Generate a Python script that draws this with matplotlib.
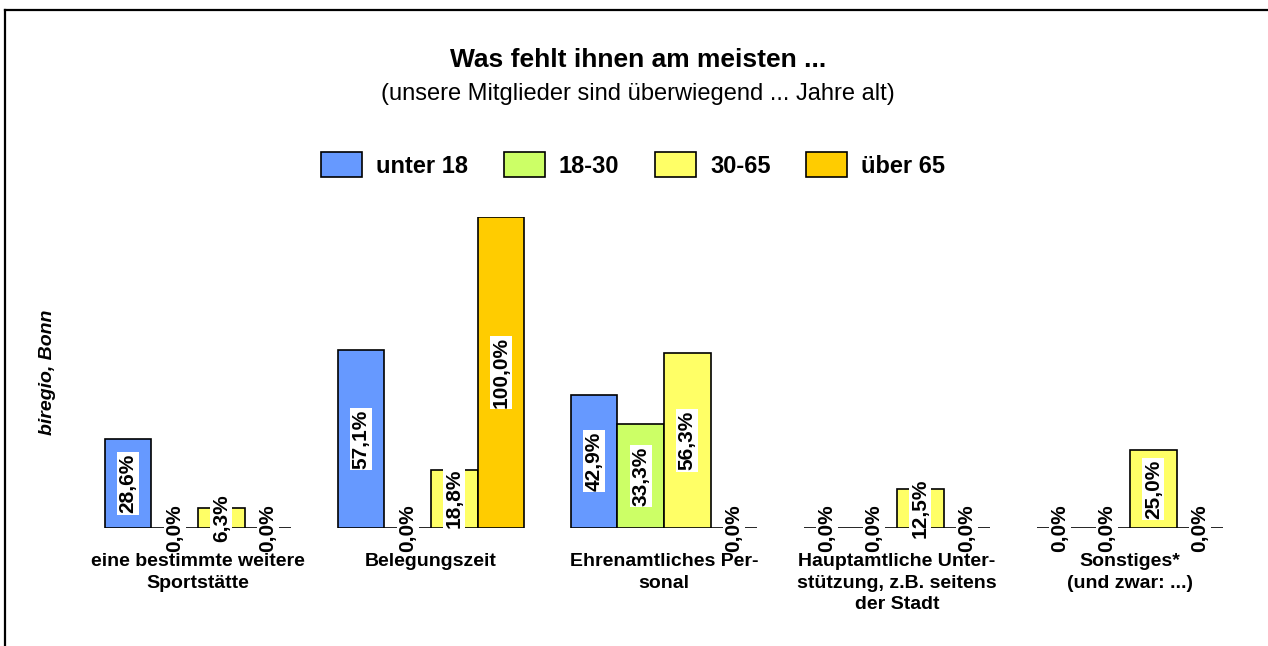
"""Was fehlt ihnen am meisten ... — gruppierte Balken nach Altersgruppe"""
import numpy as np
import matplotlib
matplotlib.use("Agg")
import matplotlib.pyplot as plt
from matplotlib.lines import Line2D

plt.rcParams["font.family"] = ["Liberation Sans", "DejaVu Sans"]

W, H = 1268, 646

categories = [
    "eine bestimmte weitere\nSportstätte",
    "Belegungszeit",
    "Ehrenamtliches Per-\nsonal",
    "Hauptamtliche Unter-\nstützung, z.B. seitens\nder Stadt",
    "Sonstiges*\n(und zwar: ...)",
]
groups = ["unter 18", "18-30", "30-65", "über 65"]
colors = ["#6699FF", "#CCFF66", "#FFFF66", "#FFCC00"]

unter18 = [28.6, 57.1, 42.9, 0.0, 0.0]
j18_30 = [0.0, 0.0, 33.3, 0.0, 0.0]
j30_65 = [6.3, 18.8, 56.3, 12.5, 25.0]
ueber65 = [0.0, 100.0, 0.0, 0.0, 0.0]
series = [unter18, j18_30, j30_65, ueber65]

fig = plt.figure(figsize=(W / 100, H / 100), dpi=100)
ax = fig.add_axes([81.5 / W, 1 - 528 / H, 1165 / W, 311 / H])

x = np.arange(len(categories))
bw = 0.2
for i, (vals, col, name) in enumerate(zip(series, colors, groups)):
    pos = x + (i - 1.5) * bw
    ax.bar(pos, vals, width=bw, color=col, edgecolor="black", linewidth=1.2,
           label=name)
    for px, v in zip(pos, vals):
        ax.text(px, v / 2, f"{v:.1f}%".replace(".", ","), rotation=90,
                ha="center", va="center", fontsize=15, fontweight="bold",
                bbox=dict(facecolor="white", edgecolor="none", pad=1.0))

ax.set_xlim(-0.5, 4.5)
ax.set_ylim(0, 100)
ax.set_xticks(x)
ax.set_xticklabels(categories, fontsize=14, fontweight="bold", linespacing=1.35)
ax.tick_params(axis="x", length=0, pad=18)
ax.set_yticks([])
for s in ax.spines.values():
    s.set_visible(False)

fig.text(638 / W, 1 - 60 / H, "Was fehlt ihnen am meisten ...", ha="center",
         va="center", fontsize=19, fontweight="bold")
fig.text(638 / W, 1 - 94 / H, "(unsere Mitglieder sind überwiegend ... Jahre alt)",
         ha="center", va="center", fontsize=17)
fig.text(47 / W, 1 - 372 / H, "biregio, Bonn", rotation=90, ha="center",
         va="center", fontsize=14, fontweight="bold", style="italic")

fig.legend(loc="center", bbox_to_anchor=(633 / W, 1 - 165 / H), ncol=4,
           frameon=False, prop=dict(size=17, weight="bold"),
           handlelength=1.74, handleheight=1.27, handletextpad=0.6,
           columnspacing=1.5)

# Rahmen (links und oben)
fig.add_artist(Line2D([5 / W, 5 / W], [0, 1 - 10 / H], transform=fig.transFigure,
                      color="black", linewidth=1.6))
fig.add_artist(Line2D([5 / W, 1], [1 - 10 / H, 1 - 10 / H], transform=fig.transFigure,
                      color="black", linewidth=1.6))

fig.savefig("out.png", dpi=100)
